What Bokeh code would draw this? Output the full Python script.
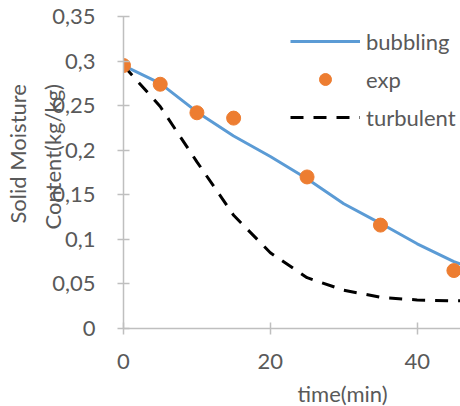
from bokeh.plotting import figure
from bokeh.models import (Range1d, FixedTicker, CustomJSTickFormatter, Title,
                          Legend, LegendItem)
from bokeh.embed import file_html
from bokeh.resources import INLINE

# ---- data ----
time_model = [0, 5, 10, 15, 20, 25, 30, 35, 40, 45, 46]
bubbling = [0.295, 0.275, 0.243, 0.216, 0.193, 0.168, 0.140, 0.118, 0.095, 0.075, 0.072]
turbulent = [0.295, 0.249, 0.187, 0.127, 0.085, 0.057, 0.043, 0.035, 0.032, 0.031, 0.031]
time_exp = [0, 5, 10, 15, 25, 35, 45]
exp_vals = [0.295, 0.274, 0.242, 0.236, 0.170, 0.116, 0.065]
x_ticks = [0, 20, 40]
y_ticks = [0, 0.05, 0.1, 0.15, 0.2, 0.25, 0.3, 0.35]

FONT = "Lato"
FS = "22px"
TXT = "#595959"
AX = "#BFBFBF"

p = figure(width=460, height=406, output_backend="svg", toolbar_location=None,
           x_range=Range1d(0, 45.9), y_range=Range1d(0, 0.35),
           min_border_left=123, min_border_right=0, min_border_top=16,
           min_border_bottom=78)
p.outline_line_color = None
p.grid.visible = False
p.background_fill_color = "white"

t_r = p.line(time_model, turbulent, line_color="black", line_width=3,
             line_dash="13 10")
b_r = p.line(time_model, bubbling, line_color="#5B9BD5", line_width=3)
e_r = p.scatter(time_exp, exp_vals, size=14, fill_color="#ED7D31",
                line_color="#ED7D31")

for ax in (p.xaxis[0], p.yaxis[0]):
    ax.axis_line_color = AX
    ax.axis_line_width = 1.5
    ax.major_tick_line_color = AX
    ax.major_tick_line_width = 1.5
    ax.major_tick_in = 6
    ax.major_tick_out = 6
    ax.minor_tick_line_color = None
    ax.major_label_text_font = FONT
    ax.major_label_text_font_size = FS
    ax.major_label_text_color = TXT

p.xaxis[0].ticker = FixedTicker(ticks=x_ticks)
p.yaxis[0].ticker = FixedTicker(ticks=y_ticks)
p.xaxis[0].major_label_standoff = 19
p.yaxis[0].major_label_standoff = 22
p.yaxis[0].formatter = CustomJSTickFormatter(
    code="return parseFloat(tick.toFixed(2)).toString().replace('.', ',');")

# axis titles (spacer titles hold the gaps between stacked titles)
p.add_layout(Title(text="Content(kg/kg)", align="left", offset=99,
                   standoff=-32, text_font=FONT, text_font_size=FS,
                   text_font_style="normal", text_color=TXT), "left")
p.add_layout(Title(text=" ", align="left", standoff=25, text_font=FONT,
                   text_font_size="2px"), "left")
p.add_layout(Title(text="Solid Moisture", align="left", offset=105,
                   standoff=-20, text_font=FONT, text_font_size=FS,
                   text_font_style="normal", text_color=TXT), "left")
p.add_layout(Title(text=" ", align="left", standoff=12, text_font=FONT,
                   text_font_size="2px"), "below")
p.add_layout(Title(text="time(min)", align="left", offset=174,
                   standoff=-20, text_font=FONT, text_font_size=FS,
                   text_font_style="normal", text_color=TXT), "below")

legend = Legend(items=[LegendItem(label="bubbling", renderers=[b_r]),
                       LegendItem(label="exp", renderers=[e_r]),
                       LegendItem(label="turbulent", renderers=[t_r])],
                location=(167, 196), padding=0, margin=0, spacing=8,
                glyph_width=70, glyph_height=30, label_height=30,
                label_standoff=6, label_text_font=FONT,
                label_text_font_size=FS, label_text_color=TXT,
                background_fill_alpha=0, border_line_color=None)
p.add_layout(legend)

open("out.html", "w").write(file_html(p, INLINE))
